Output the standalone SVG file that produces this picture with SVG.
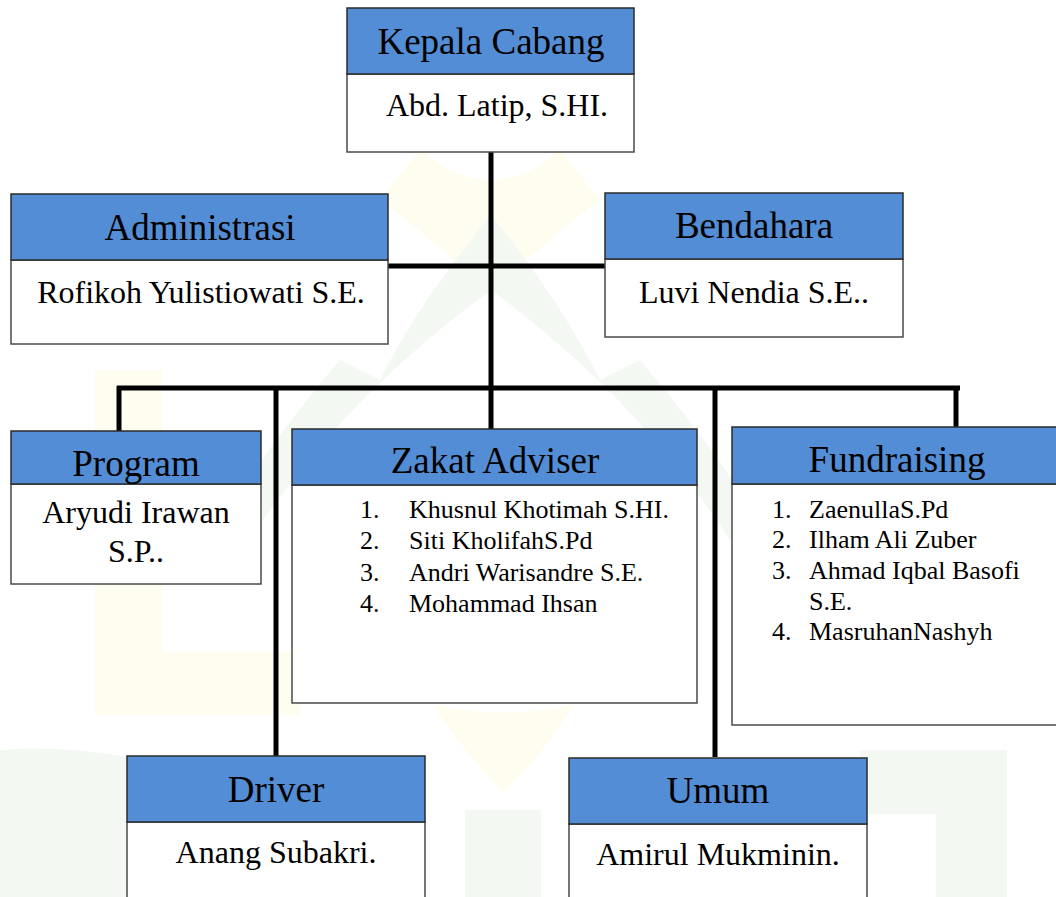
<svg xmlns="http://www.w3.org/2000/svg" width="1056" height="897" viewBox="0 0 1056 897">
<style>
.hd{fill:#538DD5;stroke:#2b2b2b;stroke-width:1.5}
.bd{fill:#ffffff;stroke:#4a4a4a;stroke-width:1.5}
.t{font-family:"Liberation Serif","Times New Roman",serif;fill:#000}
.h{font-size:37px;text-anchor:middle}
.b{font-size:32px;text-anchor:middle}
.l{font-size:26px}
.ln{stroke:#000;stroke-width:5;fill:none}
.wg{fill:#f3f8f2}
.wy{fill:#fffdf0}
</style>
<rect width="1056" height="897" fill="#fff"/>
<g id="watermark">
<path class="wy" d="M95 370H163V652H300V715H95Z"/>
<path class="wy" d="M420 150Q491 210 560 150L600 200Q520 260 491 300Q460 260 380 200Z"/>
<path class="wg" d="M491 215Q560 300 600 380L640 360Q700 430 760 520L730 540Q640 400 491 290Q340 400 250 540L220 520Q280 430 340 360L380 380Q420 300 491 215Z"/>
<path class="wy" d="M433 705Q500 720 573 705Q540 760 503 792Q470 760 433 705Z"/>
<rect class="wg" x="465" y="810" width="76" height="87"/>
<path class="wg" d="M860 750H1007V897H936V814H860Z"/>
<path class="wg" d="M0 750Q60 745 127 757V897H0Z"/>
</g>
<g id="connectors">
<line class="ln" x1="491" y1="152" x2="491" y2="429"/>
<line class="ln" x1="388" y1="266" x2="605" y2="266"/>
<line class="ln" x1="117" y1="388" x2="960" y2="388"/>
<line class="ln" x1="119" y1="386" x2="119" y2="431"/>
<line class="ln" x1="276" y1="386" x2="276" y2="757"/>
<line class="ln" x1="715" y1="386" x2="715" y2="757"/>
<line class="ln" x1="956" y1="386" x2="956" y2="427"/>
</g>
<g id="kepala-cabang">
<rect class="bd" x="347" y="74" width="287" height="78"/>
<rect class="hd" x="347" y="8" width="287" height="66"/>
<text class="t h" x="491" y="54">Kepala Cabang</text>
<text class="t b" x="497" y="116">Abd. Latip, S.HI.</text>
</g>
<g id="administrasi">
<rect class="bd" x="11" y="260" width="377" height="84"/>
<rect class="hd" x="11" y="194" width="377" height="66"/>
<text class="t h" x="200" y="240">Administrasi</text>
<text class="t b" x="201" y="303">Rofikoh Yulistiowati S.E.</text>
</g>
<g id="bendahara">
<rect class="bd" x="605" y="259" width="298" height="78"/>
<rect class="hd" x="605" y="193" width="298" height="66"/>
<text class="t h" x="754" y="238">Bendahara</text>
<text class="t b" x="754" y="303">Luvi Nendia S.E..</text>
</g>
<g id="program">
<rect class="bd" x="11" y="484" width="250" height="100"/>
<rect class="hd" x="11" y="431" width="250" height="53"/>
<text class="t h" x="136" y="476">Program</text>
<text class="t b" x="136" y="523">Aryudi Irawan</text>
<text class="t b" x="136" y="562">S.P..</text>
</g>
<g id="zakat-adviser">
<rect class="bd" x="292" y="485" width="405" height="218"/>
<rect class="hd" x="292" y="429" width="405" height="56"/>
<text class="t h" x="495" y="473">Zakat Adviser</text>
<g class="t l">
<text x="360" y="518">1.</text><text x="409" y="518">Khusnul Khotimah S.HI.</text>
<text x="360" y="549">2.</text><text x="409" y="549">Siti KholifahS.Pd</text>
<text x="360" y="581">3.</text><text x="409" y="581">Andri Warisandre S.E.</text>
<text x="360" y="612">4.</text><text x="409" y="612">Mohammad Ihsan</text>
</g>
</g>
<g id="fundraising">
<rect class="bd" x="732" y="484" width="330" height="241"/>
<rect class="hd" x="732" y="427" width="330" height="57"/>
<text class="t h" x="897" y="472">Fundraising</text>
<g class="t l">
<text x="772" y="518">1.</text><text x="809" y="518">ZaenullaS.Pd</text>
<text x="772" y="548">2.</text><text x="809" y="548">Ilham Ali Zuber</text>
<text x="772" y="579">3.</text><text x="809" y="579">Ahmad Iqbal Basofi</text>
<text x="809" y="610">S.E.</text>
<text x="772" y="640">4.</text><text x="809" y="640">MasruhanNashyh</text>
</g>
</g>
<g id="driver">
<rect class="bd" x="127" y="822" width="298" height="90"/>
<rect class="hd" x="127" y="756" width="298" height="66"/>
<text class="t h" x="276" y="802">Driver</text>
<text class="t b" x="276" y="863">Anang Subakri.</text>
</g>
<g id="umum">
<rect class="bd" x="569" y="824" width="298" height="90"/>
<rect class="hd" x="569" y="758" width="298" height="66"/>
<text class="t h" x="718" y="803">Umum</text>
<text class="t b" x="718" y="865">Amirul Mukminin.</text>
</g>
</svg>
